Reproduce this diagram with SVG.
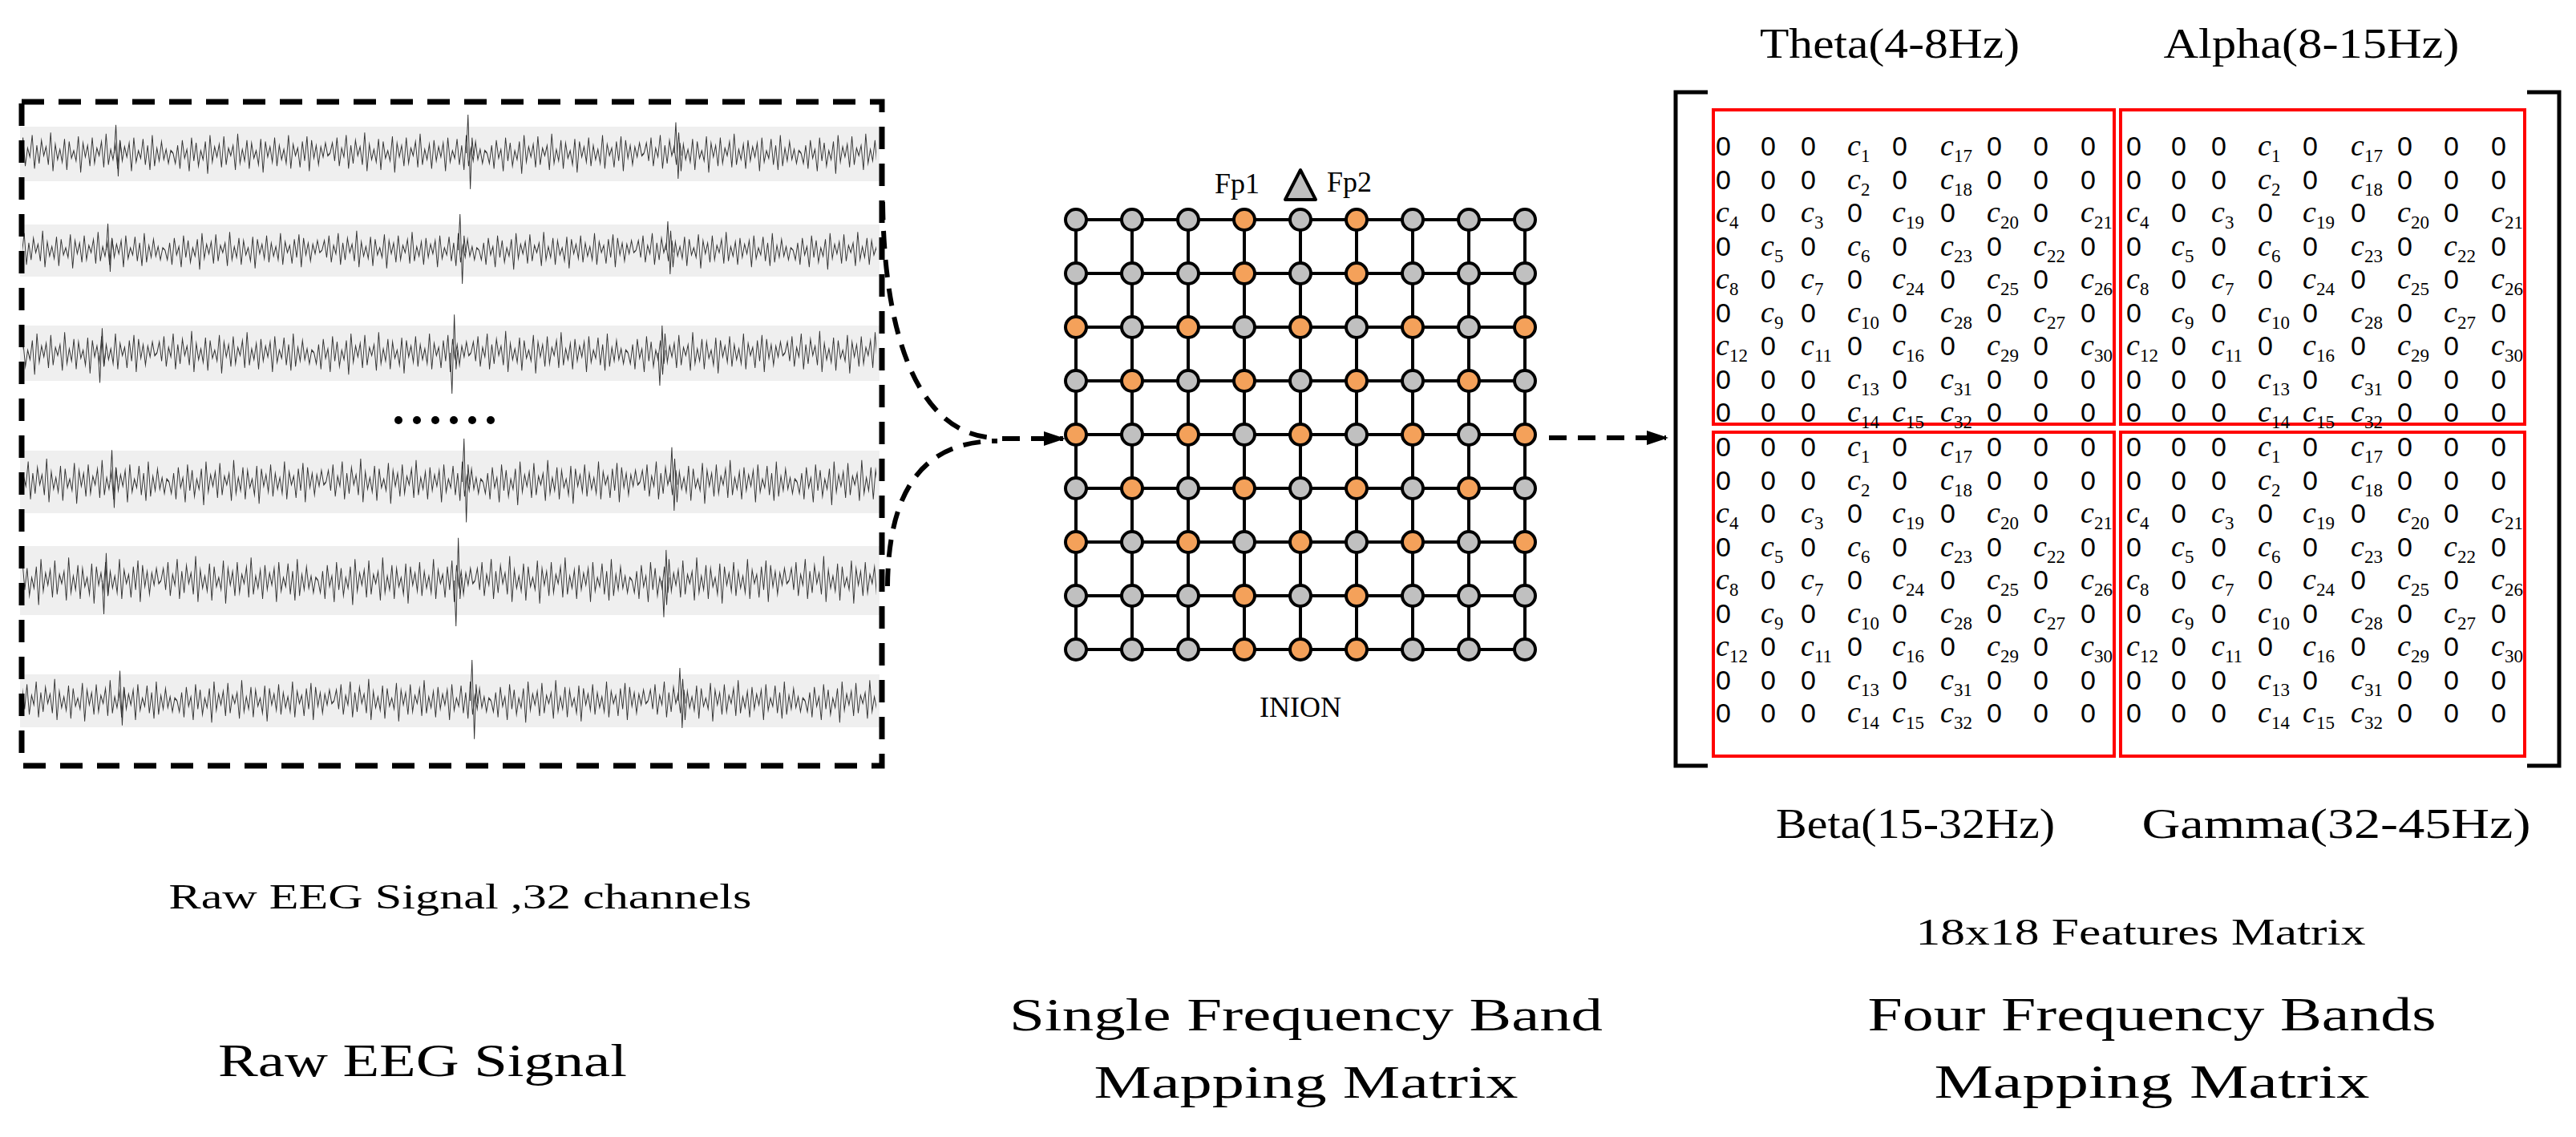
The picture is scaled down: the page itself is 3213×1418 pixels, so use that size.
<svg xmlns="http://www.w3.org/2000/svg" xmlns:xlink="http://www.w3.org/1999/xlink" width="3213" height="1418" viewBox="0 0 3213 1418">
<style>
.lbl{font-family:"Liberation Serif","DejaVu Serif",serif;fill:#000}
.z{font-family:"Liberation Sans","DejaVu Sans",sans-serif;font-size:34px}
.c{font-family:"Liberation Serif","DejaVu Serif",serif;font-style:italic;font-size:38px}
.s{font-size:23px;font-style:normal}
.band{fill:#efefef}
.wave{fill:none;stroke:#333;stroke-width:1.3}
.dash{fill:none;stroke:#000;stroke-width:7;stroke-dasharray:28 18}
.con{fill:none;stroke:#000;stroke-width:6;stroke-dasharray:22 14}
.gl{stroke:#000;stroke-width:4}
.o{fill:#f4a15a;stroke:#000;stroke-width:4}
.g{fill:#c0c0c0;stroke:#000;stroke-width:4}
.red{fill:none;stroke:#f00;stroke-width:4}
</style>
<defs>
<marker id="ah" markerWidth="4.5" markerHeight="3" refX="4" refY="1.5" orient="auto" markerUnits="strokeWidth"><path d="M0,0 L4.5,1.5 L0,3 Z" fill="#000"/></marker>
<clipPath id="wc"><rect x="28" y="0" width="1065" height="1000"/></clipPath>
<polyline id="seg" points="0,0 4,-8 8,6 12,-12 16,10 20,-4 24,3 28,-14 32,12 36,-6 40,8 44,-10 48,2 52,-5 56,9 60,-16 64,14 68,-7 72,5 76,-3 80,7 84,-11 88,13 92,-9 96,4 100,-2 104,6 108,-13 112,15 116,-8 120,3 124,-6 128,10 132,-12 136,8 140,-4 144,2 148,-9 152,11 156,-15 160,9 164,-3 168,5 172,-7 176,12 180,-10 184,6 188,-5 192,3 196,-8 200,14 204,-12 208,7 212,-2 216,4 220,-11 224,9 228,-6 232,13 236,-14 240,10 244,-4 248,6 252,-9 256,5 260,-3 264,8 268,-2 272,0"/>
<g id="row" class="wave" vector-effect="non-scaling-stroke">
<use xlink:href="#seg" x="0" vector-effect="non-scaling-stroke"/><use xlink:href="#seg" x="272" transform="scale(1,-1)"/><use xlink:href="#seg" x="544"/><use xlink:href="#seg" x="816" transform="scale(1,-1)"/><use xlink:href="#seg" x="1088"/><use xlink:href="#seg" x="1360" transform="scale(1,-1)"/><use xlink:href="#seg" x="1632"/>
<path d="M170,0 l3,-22 l4,40 l3,-28 l3,10 M780,0 l3,-30 l4,58 l3,-40 l3,14 M1140,0 l3,-24 l4,44 l3,-28 l3,10"/>
</g>
</defs>
<rect width="3213" height="1418" fill="#fff"/>

<g id="raw-eeg">
<rect class="band" x="25" y="158" width="1072" height="68"/>
<rect class="band" x="25" y="280" width="1072" height="65"/>
<rect class="band" x="25" y="406" width="1072" height="69"/>
<rect class="band" x="25" y="562" width="1072" height="78"/>
<rect class="band" x="25" y="681" width="1072" height="86"/>
<rect class="band" x="25" y="841" width="1072" height="66"/>
<g clip-path="url(#wc)">
<use xlink:href="#row" transform="translate(20,191) scale(0.72,1.6)"/>
<use xlink:href="#row" transform="translate(10,312) scale(0.72,1.5)"/>
<use xlink:href="#row" transform="translate(0,440) scale(0.72,-1.7)"/>
<use xlink:href="#row" transform="translate(15,601) scale(0.72,1.8)"/>
<use xlink:href="#row" transform="translate(5,724) scale(0.72,-1.9)"/>
<use xlink:href="#row" transform="translate(25,874) scale(0.72,1.7)"/>
</g>
<g fill="#000"><circle cx="497" cy="524" r="5"/><circle cx="520" cy="524" r="5"/><circle cx="543" cy="524" r="5"/><circle cx="566" cy="524" r="5"/><circle cx="589" cy="524" r="5"/><circle cx="612" cy="524" r="5"/></g>
<rect class="dash" x="27" y="127" width="1073" height="828"/>
<text class="lbl" x="574" y="1133" font-size="44" text-anchor="middle" textLength="727" lengthAdjust="spacingAndGlyphs">Raw EEG Signal ,32 channels</text>
<text class="lbl" x="527" y="1342" font-size="58" text-anchor="middle" textLength="510" lengthAdjust="spacingAndGlyphs">Raw EEG Signal</text>
</g>

<g id="connectors">
<path class="con" d="M1101,252 C1103,450 1160,546 1244,546"/>
<path class="con" d="M1107,731 C1108,600 1160,550 1244,550"/>
<path class="con" d="M1250,547 L1326,547" marker-end="url(#ah)"/>
<path class="con" d="M1932,546 L2078,546" marker-end="url(#ah)"/>
</g>

<g id="single-band">
<g class="gl">
<line x1="1342" y1="274" x2="1902" y2="274"/><line x1="1342" y1="341" x2="1902" y2="341"/><line x1="1342" y1="408" x2="1902" y2="408"/><line x1="1342" y1="475" x2="1902" y2="475"/><line x1="1342" y1="542" x2="1902" y2="542"/><line x1="1342" y1="609" x2="1902" y2="609"/><line x1="1342" y1="676" x2="1902" y2="676"/><line x1="1342" y1="743" x2="1902" y2="743"/><line x1="1342" y1="810" x2="1902" y2="810"/>
<line x1="1342" y1="274" x2="1342" y2="810"/><line x1="1412" y1="274" x2="1412" y2="810"/><line x1="1482" y1="274" x2="1482" y2="810"/><line x1="1552" y1="274" x2="1552" y2="810"/><line x1="1622" y1="274" x2="1622" y2="810"/><line x1="1692" y1="274" x2="1692" y2="810"/><line x1="1762" y1="274" x2="1762" y2="810"/><line x1="1832" y1="274" x2="1832" y2="810"/><line x1="1902" y1="274" x2="1902" y2="810"/>
</g>
<g>
<circle class="g" cx="1342" cy="274" r="13"/><circle class="g" cx="1412" cy="274" r="13"/><circle class="g" cx="1482" cy="274" r="13"/><circle class="o" cx="1552" cy="274" r="13"/><circle class="g" cx="1622" cy="274" r="13"/><circle class="o" cx="1692" cy="274" r="13"/><circle class="g" cx="1762" cy="274" r="13"/><circle class="g" cx="1832" cy="274" r="13"/><circle class="g" cx="1902" cy="274" r="13"/>
<circle class="g" cx="1342" cy="341" r="13"/><circle class="g" cx="1412" cy="341" r="13"/><circle class="g" cx="1482" cy="341" r="13"/><circle class="o" cx="1552" cy="341" r="13"/><circle class="g" cx="1622" cy="341" r="13"/><circle class="o" cx="1692" cy="341" r="13"/><circle class="g" cx="1762" cy="341" r="13"/><circle class="g" cx="1832" cy="341" r="13"/><circle class="g" cx="1902" cy="341" r="13"/>
<circle class="o" cx="1342" cy="408" r="13"/><circle class="g" cx="1412" cy="408" r="13"/><circle class="o" cx="1482" cy="408" r="13"/><circle class="g" cx="1552" cy="408" r="13"/><circle class="o" cx="1622" cy="408" r="13"/><circle class="g" cx="1692" cy="408" r="13"/><circle class="o" cx="1762" cy="408" r="13"/><circle class="g" cx="1832" cy="408" r="13"/><circle class="o" cx="1902" cy="408" r="13"/>
<circle class="g" cx="1342" cy="475" r="13"/><circle class="o" cx="1412" cy="475" r="13"/><circle class="g" cx="1482" cy="475" r="13"/><circle class="o" cx="1552" cy="475" r="13"/><circle class="g" cx="1622" cy="475" r="13"/><circle class="o" cx="1692" cy="475" r="13"/><circle class="g" cx="1762" cy="475" r="13"/><circle class="o" cx="1832" cy="475" r="13"/><circle class="g" cx="1902" cy="475" r="13"/>
<circle class="o" cx="1342" cy="542" r="13"/><circle class="g" cx="1412" cy="542" r="13"/><circle class="o" cx="1482" cy="542" r="13"/><circle class="g" cx="1552" cy="542" r="13"/><circle class="o" cx="1622" cy="542" r="13"/><circle class="g" cx="1692" cy="542" r="13"/><circle class="o" cx="1762" cy="542" r="13"/><circle class="g" cx="1832" cy="542" r="13"/><circle class="o" cx="1902" cy="542" r="13"/>
<circle class="g" cx="1342" cy="609" r="13"/><circle class="o" cx="1412" cy="609" r="13"/><circle class="g" cx="1482" cy="609" r="13"/><circle class="o" cx="1552" cy="609" r="13"/><circle class="g" cx="1622" cy="609" r="13"/><circle class="o" cx="1692" cy="609" r="13"/><circle class="g" cx="1762" cy="609" r="13"/><circle class="o" cx="1832" cy="609" r="13"/><circle class="g" cx="1902" cy="609" r="13"/>
<circle class="o" cx="1342" cy="676" r="13"/><circle class="g" cx="1412" cy="676" r="13"/><circle class="o" cx="1482" cy="676" r="13"/><circle class="g" cx="1552" cy="676" r="13"/><circle class="o" cx="1622" cy="676" r="13"/><circle class="g" cx="1692" cy="676" r="13"/><circle class="o" cx="1762" cy="676" r="13"/><circle class="g" cx="1832" cy="676" r="13"/><circle class="o" cx="1902" cy="676" r="13"/>
<circle class="g" cx="1342" cy="743" r="13"/><circle class="g" cx="1412" cy="743" r="13"/><circle class="g" cx="1482" cy="743" r="13"/><circle class="o" cx="1552" cy="743" r="13"/><circle class="g" cx="1622" cy="743" r="13"/><circle class="o" cx="1692" cy="743" r="13"/><circle class="g" cx="1762" cy="743" r="13"/><circle class="g" cx="1832" cy="743" r="13"/><circle class="g" cx="1902" cy="743" r="13"/>
<circle class="g" cx="1342" cy="810" r="13"/><circle class="g" cx="1412" cy="810" r="13"/><circle class="g" cx="1482" cy="810" r="13"/><circle class="o" cx="1552" cy="810" r="13"/><circle class="o" cx="1622" cy="810" r="13"/><circle class="o" cx="1692" cy="810" r="13"/><circle class="g" cx="1762" cy="810" r="13"/><circle class="g" cx="1832" cy="810" r="13"/><circle class="g" cx="1902" cy="810" r="13"/>
</g>
<polygon points="1622,212 1603,249 1641,249" fill="#c0c0c0" stroke="#000" stroke-width="4" stroke-linejoin="round"/>
<text class="lbl" x="1515" y="241" font-size="36">Fp1</text>
<text class="lbl" x="1655" y="239" font-size="36">Fp2</text>
<text class="lbl" x="1622" y="894" font-size="36" text-anchor="middle">INION</text>
<text class="lbl" x="1629" y="1285" font-size="58" text-anchor="middle" textLength="740" lengthAdjust="spacingAndGlyphs">Single  Frequency Band</text>
<text class="lbl" x="1629" y="1369" font-size="58" text-anchor="middle" textLength="529" lengthAdjust="spacingAndGlyphs">Mapping Matrix</text>
</g>

<g id="four-bands">
<defs>
<g id="q">
<text class="z" x="0" y="0">0</text><text class="z" x="56" y="0">0</text><text class="z" x="106" y="0">0</text><text class="c" x="164" y="0">c<tspan class="s" dy="8">1</tspan></text><text class="z" x="220" y="0">0</text><text class="c" x="280" y="0">c<tspan class="s" dy="8">17</tspan></text><text class="z" x="338" y="0">0</text><text class="z" x="396" y="0">0</text><text class="z" x="455" y="0">0</text>
<text class="z" x="0" y="41.5">0</text><text class="z" x="56" y="41.5">0</text><text class="z" x="106" y="41.5">0</text><text class="c" x="164" y="41.5">c<tspan class="s" dy="8">2</tspan></text><text class="z" x="220" y="41.5">0</text><text class="c" x="280" y="41.5">c<tspan class="s" dy="8">18</tspan></text><text class="z" x="338" y="41.5">0</text><text class="z" x="396" y="41.5">0</text><text class="z" x="455" y="41.5">0</text>
<text class="c" x="0" y="83">c<tspan class="s" dy="8">4</tspan></text><text class="z" x="56" y="83">0</text><text class="c" x="106" y="83">c<tspan class="s" dy="8">3</tspan></text><text class="z" x="164" y="83">0</text><text class="c" x="220" y="83">c<tspan class="s" dy="8">19</tspan></text><text class="z" x="280" y="83">0</text><text class="c" x="338" y="83">c<tspan class="s" dy="8">20</tspan></text><text class="z" x="396" y="83">0</text><text class="c" x="455" y="83">c<tspan class="s" dy="8">21</tspan></text>
<text class="z" x="0" y="124.5">0</text><text class="c" x="56" y="124.5">c<tspan class="s" dy="8">5</tspan></text><text class="z" x="106" y="124.5">0</text><text class="c" x="164" y="124.5">c<tspan class="s" dy="8">6</tspan></text><text class="z" x="220" y="124.5">0</text><text class="c" x="280" y="124.5">c<tspan class="s" dy="8">23</tspan></text><text class="z" x="338" y="124.5">0</text><text class="c" x="396" y="124.5">c<tspan class="s" dy="8">22</tspan></text><text class="z" x="455" y="124.5">0</text>
<text class="c" x="0" y="166">c<tspan class="s" dy="8">8</tspan></text><text class="z" x="56" y="166">0</text><text class="c" x="106" y="166">c<tspan class="s" dy="8">7</tspan></text><text class="z" x="164" y="166">0</text><text class="c" x="220" y="166">c<tspan class="s" dy="8">24</tspan></text><text class="z" x="280" y="166">0</text><text class="c" x="338" y="166">c<tspan class="s" dy="8">25</tspan></text><text class="z" x="396" y="166">0</text><text class="c" x="455" y="166">c<tspan class="s" dy="8">26</tspan></text>
<text class="z" x="0" y="207.5">0</text><text class="c" x="56" y="207.5">c<tspan class="s" dy="8">9</tspan></text><text class="z" x="106" y="207.5">0</text><text class="c" x="164" y="207.5">c<tspan class="s" dy="8">10</tspan></text><text class="z" x="220" y="207.5">0</text><text class="c" x="280" y="207.5">c<tspan class="s" dy="8">28</tspan></text><text class="z" x="338" y="207.5">0</text><text class="c" x="396" y="207.5">c<tspan class="s" dy="8">27</tspan></text><text class="z" x="455" y="207.5">0</text>
<text class="c" x="0" y="249">c<tspan class="s" dy="8">12</tspan></text><text class="z" x="56" y="249">0</text><text class="c" x="106" y="249">c<tspan class="s" dy="8">11</tspan></text><text class="z" x="164" y="249">0</text><text class="c" x="220" y="249">c<tspan class="s" dy="8">16</tspan></text><text class="z" x="280" y="249">0</text><text class="c" x="338" y="249">c<tspan class="s" dy="8">29</tspan></text><text class="z" x="396" y="249">0</text><text class="c" x="455" y="249">c<tspan class="s" dy="8">30</tspan></text>
<text class="z" x="0" y="290.5">0</text><text class="z" x="56" y="290.5">0</text><text class="z" x="106" y="290.5">0</text><text class="c" x="164" y="290.5">c<tspan class="s" dy="8">13</tspan></text><text class="z" x="220" y="290.5">0</text><text class="c" x="280" y="290.5">c<tspan class="s" dy="8">31</tspan></text><text class="z" x="338" y="290.5">0</text><text class="z" x="396" y="290.5">0</text><text class="z" x="455" y="290.5">0</text>
<text class="z" x="0" y="332">0</text><text class="z" x="56" y="332">0</text><text class="z" x="106" y="332">0</text><text class="c" x="164" y="332">c<tspan class="s" dy="8">14</tspan></text><text class="c" x="220" y="332">c<tspan class="s" dy="8">15</tspan></text><text class="c" x="280" y="332">c<tspan class="s" dy="8">32</tspan></text><text class="z" x="338" y="332">0</text><text class="z" x="396" y="332">0</text><text class="z" x="455" y="332">0</text>
</g>
</defs>
<path d="M2130,115 L2090,115 L2090,955 L2130,955 M3152,115 L3192,115 L3192,955 L3152,955" fill="none" stroke="#000" stroke-width="5"/>
<g id="theta"><rect class="red" x="2137" y="137" width="500" height="392"/><use xlink:href="#q" transform="translate(2140,194)"/></g>
<g id="alpha"><rect class="red" x="2645" y="137" width="504" height="392"/><use xlink:href="#q" transform="translate(2652,194)"/></g>
<g id="beta"><rect class="red" x="2137" y="539" width="500" height="404"/><use xlink:href="#q" transform="translate(2140,569)"/></g>
<g id="gamma"><rect class="red" x="2645" y="539" width="504" height="404"/><use xlink:href="#q" transform="translate(2652,569)"/></g>
<text class="lbl" x="2357" y="72" font-size="52" text-anchor="middle" textLength="324" lengthAdjust="spacingAndGlyphs">Theta(4-8Hz)</text>
<text class="lbl" x="2883" y="72" font-size="52" text-anchor="middle" textLength="369" lengthAdjust="spacingAndGlyphs">Alpha(8-15Hz)</text>
<text class="lbl" x="2389" y="1045" font-size="52" text-anchor="middle" textLength="348" lengthAdjust="spacingAndGlyphs">Beta(15-32Hz)</text>
<text class="lbl" x="2914" y="1045" font-size="52" text-anchor="middle" textLength="485" lengthAdjust="spacingAndGlyphs">Gamma(32-45Hz)</text>
<text class="lbl" x="2670" y="1178" font-size="46" text-anchor="middle" textLength="561" lengthAdjust="spacingAndGlyphs">18x18 Features  Matrix</text>
<text class="lbl" x="2684" y="1285" font-size="60" text-anchor="middle" textLength="709" lengthAdjust="spacingAndGlyphs">Four Frequency Bands</text>
<text class="lbl" x="2684" y="1369" font-size="60" text-anchor="middle" textLength="543" lengthAdjust="spacingAndGlyphs">Mapping Matrix</text>
</g>
</svg>
